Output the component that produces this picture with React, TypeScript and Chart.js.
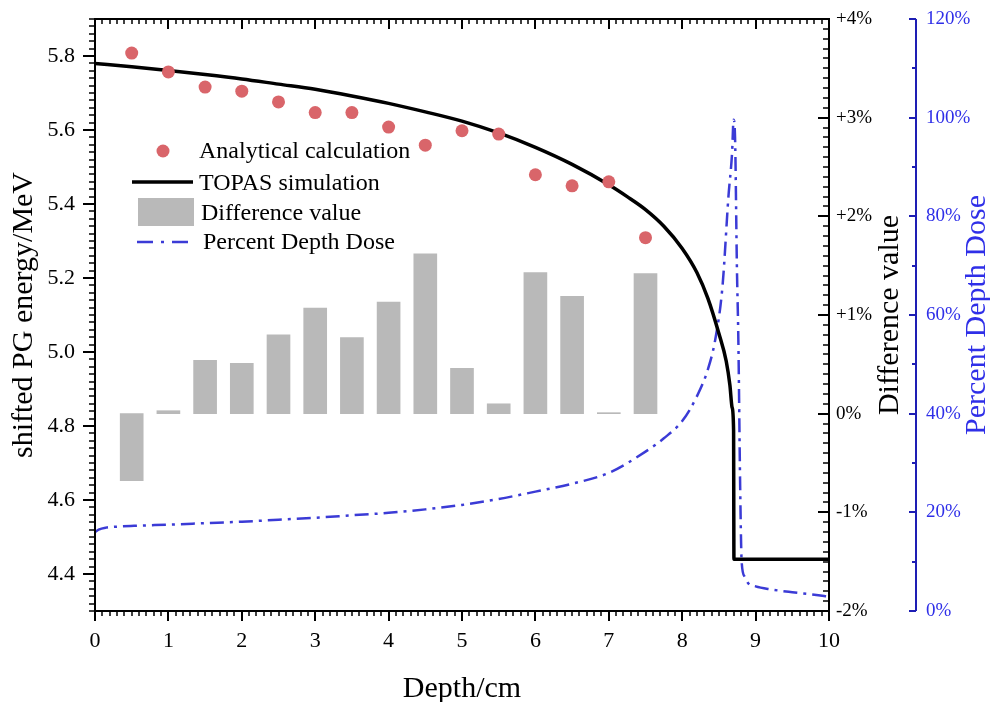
import React, { useEffect, useRef } from 'react';
import { Chart, registerables } from 'chart.js';

Chart.register(...registerables);

// ---------- data ----------
const depthPoints = [0.5, 1, 1.5, 2, 2.5, 3, 3.5, 4, 4.5, 5, 5.5, 6, 6.5, 7, 7.5];
const analyticalEnergy = [5.808, 5.757, 5.716, 5.705, 5.676, 5.647, 5.647, 5.608, 5.559, 5.598, 5.589, 5.479, 5.449, 5.46, 5.309];
const differencePct = [-0.68, 0.03, 0.54, 0.51, 0.8, 1.07, 0.77, 1.13, 1.62, 0.46, 0.1, 1.43, 1.19, 0.01, 1.42];

const topasDepth = [0, 0.5, 1, 1.5, 2, 2.5, 3, 3.5, 4, 4.5, 5, 5.5, 6, 6.5, 7, 7.25, 7.5, 7.75, 8, 8.2, 8.35, 8.5, 8.6, 8.65, 8.68, 8.7, 8.705, 10];
const topasEnergy = [5.78, 5.771, 5.761, 5.75, 5.738, 5.724, 5.71, 5.692, 5.672, 5.649, 5.624, 5.592, 5.553, 5.507, 5.452, 5.42, 5.385, 5.34, 5.28, 5.215, 5.145, 5.05, 4.975, 4.91, 4.85, 4.79, 4.44, 4.44];

const pddDepth = [0, 0.05, 0.15, 0.3, 0.6, 1, 1.5, 2, 2.5, 3, 3.5, 4, 4.5, 5, 5.5, 6, 6.5, 7, 7.5, 7.75, 8, 8.2, 8.35, 8.45, 8.55, 8.63, 8.68, 8.7, 8.72, 8.745, 8.765, 8.79, 8.81, 8.85, 8.9, 9, 9.2, 9.5, 9.8, 10];
const pddPercent = [16.0, 16.5, 16.9, 17.1, 17.3, 17.5, 17.8, 18.1, 18.5, 18.9, 19.4, 19.9, 20.6, 21.5, 22.7, 24.2, 25.8, 28.0, 32.3, 35.0, 38.5, 43.5, 49.0, 55.0, 66.0, 84.0, 93.0, 99.6, 96.0, 70.0, 55.0, 25.0, 10.0, 7.0, 5.6, 5.0, 4.4, 3.8, 3.3, 2.9];

const xTicks = [0, 1, 2, 3, 4, 5, 6, 7, 8, 9, 10];
const energyTicks = [4.4, 4.6, 4.8, 5.0, 5.2, 5.4, 5.6, 5.8];
const diffTicks = [-2, -1, 0, 1, 2, 3, 4];
const pddTicks = [0, 20, 40, 60, 80, 100, 120];
const pddMinorTicks = [10, 30, 50, 70, 90, 110];

const legendLabels = ['Analytical calculation', 'TOPAS simulation', 'Difference value', 'Percent Depth Dose'];

const FONT = "'Liberation Serif', 'Times New Roman', serif";
const RED = '#d9656a';
const GRAY = '#b9b9b9';
const BLUE = '#3b3bd6';
const BLUE_AXIS = '#1e1eb4';
const BLUE_TEXT = '#2f2fe8';

const zeroPad = (s: any) => {
  s.paddingTop = 0;
  s.paddingBottom = 0;
  s.paddingLeft = 0;
  s.paddingRight = 0;
};

const decoPlugin = {
  id: 'deco',
  afterDraw(chart: any) {
    const { ctx, chartArea, scales } = chart;
    const { left, right, top, bottom } = chartArea;
    const line = (x1: number, y1: number, x2: number, y2: number) => {
      ctx.beginPath();
      ctx.moveTo(x1, y1);
      ctx.lineTo(x2, y2);
      ctx.stroke();
    };
    ctx.save();
    ctx.strokeStyle = '#000';
    // minor / major ticks
    const xs = scales.x;
    for (let i = 0; i <= 100; i++) {
      const px = Math.round(xs.getPixelForValue(i / 10));
      const major = i % 10 === 0;
      ctx.lineWidth = major ? 2 : 1.5;
      const len = major ? 10 : 5;
      line(px, bottom, px, bottom + len);
      line(px, top, px, top + len);
    }
    const ys = scales.y;
    for (let i = 0; i <= 80; i++) {
      const v = 4.3 + i * 0.02;
      const py = Math.round(ys.getPixelForValue(v));
      const major = energyTicks.some((t) => Math.abs(t - v) < 1e-6);
      ctx.lineWidth = major ? 2 : 1.5;
      line(left, py, left - (major ? 12 : 6), py);
    }
    const y2 = scales.y2;
    for (let i = 0; i <= 60; i++) {
      const v = -2 + i * 0.1;
      const py = Math.round(y2.getPixelForValue(v));
      const major = i % 10 === 0;
      ctx.lineWidth = major ? 2 : 1.5;
      line(right, py, right - (major ? 11 : 6), py);
    }
    // frame
    ctx.lineWidth = 2;
    ctx.beginPath();
    ctx.rect(left, top, right - left, bottom - top);
    ctx.stroke();

    // PDD axis
    const y3 = scales.y3;
    const ax = Math.round(y3.left);
    ctx.strokeStyle = BLUE_AXIS;
    ctx.lineWidth = 2;
    line(ax, top, ax, bottom);
    pddTicks.forEach((v) => {
      const py = Math.round(y3.getPixelForValue(v));
      line(ax, py, ax - 7, py);
    });
    pddMinorTicks.forEach((v) => {
      const py = Math.round(y3.getPixelForValue(v));
      line(ax, py, ax - 4, py);
    });

    // axis titles
    ctx.font = `30px ${FONT}`;
    ctx.fillStyle = '#000';
    ctx.textAlign = 'center';
    ctx.textBaseline = 'alphabetic';
    ctx.fillText('Depth/cm', (left + right) / 2, 697);
    const vText = (text: string, x: number, color: string) => {
      ctx.save();
      ctx.translate(x, (top + bottom) / 2);
      ctx.rotate(-Math.PI / 2);
      ctx.fillStyle = color;
      ctx.fillText(text, 0, 0);
      ctx.restore();
    };
    vText('shifted PG energy/MeV', 32, '#000');
    vText('Difference value', 898, '#000');
    vText('Percent Depth Dose', 985, BLUE_TEXT);

    // legend
    ctx.fillStyle = RED;
    ctx.beginPath();
    ctx.arc(163, 151, 6.5, 0, Math.PI * 2);
    ctx.fill();
    ctx.strokeStyle = '#000';
    ctx.lineWidth = 3.5;
    line(132, 182, 193, 182);
    ctx.fillStyle = GRAY;
    ctx.fillRect(138, 198, 56, 28);
    ctx.strokeStyle = BLUE;
    ctx.lineWidth = 2.5;
    ctx.setLineDash([16, 8, 3, 8]);
    line(137, 242, 192, 242);
    ctx.setLineDash([]);
    ctx.font = `24px ${FONT}`;
    ctx.fillStyle = '#000';
    ctx.textAlign = 'left';
    ctx.fillText(legendLabels[0], 199, 158);
    ctx.fillText(legendLabels[1], 199, 190);
    ctx.fillText(legendLabels[2], 201, 220);
    ctx.fillText(legendLabels[3], 203, 249);
    ctx.restore();
  },
};

export default function App() {
  const ref = useRef<HTMLCanvasElement>(null);
  useEffect(() => {
    if (!ref.current) return;
    Chart.defaults.font.family = FONT;
    const chart = new Chart(ref.current, {
      type: 'line',
      data: {
        datasets: [
          {
            type: 'line',
            label: legendLabels[0],
            data: depthPoints.map((x, i) => ({ x, y: analyticalEnergy[i] })),
            xAxisID: 'x',
            yAxisID: 'y',
            showLine: false,
            pointRadius: 6.5,
            pointBorderWidth: 0,
            pointBackgroundColor: RED,
            pointBorderColor: RED,
            order: 0,
          } as any,
          {
            type: 'line',
            label: legendLabels[1],
            data: topasDepth.map((x, i) => ({ x, y: topasEnergy[i] })),
            xAxisID: 'x',
            yAxisID: 'y',
            borderColor: '#000',
            borderWidth: 3.5,
            pointRadius: 0,
            cubicInterpolationMode: 'monotone',
            order: 1,
          },
          {
            type: 'line',
            label: legendLabels[3],
            data: pddDepth.map((x, i) => ({ x, y: pddPercent[i] })),
            xAxisID: 'x',
            yAxisID: 'y3',
            borderColor: BLUE,
            borderWidth: 2.5,
            borderDash: [14, 6, 3, 6],
            pointRadius: 0,
            cubicInterpolationMode: 'monotone',
            order: 2,
          },
          {
            type: 'bar',
            label: legendLabels[2],
            data: depthPoints.map((x, i) => ({ x, y: differencePct[i] })),
            xAxisID: 'x',
            yAxisID: 'y2',
            backgroundColor: GRAY,
            barThickness: 23,
            order: 3,
          } as any,
        ],
      },
      options: {
        animation: false,
        responsive: false,
        events: [],
        layout: { padding: { top: 19, left: 0, right: 0, bottom: 0 } },
        plugins: { legend: { display: false }, tooltip: { enabled: false }, title: { display: false } },
        scales: {
          x: {
            type: 'linear',
            position: 'bottom',
            min: 0,
            max: 10,
            offset: false,
            grid: { display: false, drawTicks: false },
            border: { display: false },
            afterBuildTicks: (s: any) => { s.ticks = xTicks.map((v) => ({ value: v })); },
            afterFit: (s: any) => { s.height = 91; zeroPad(s); },
            ticks: { color: '#000', font: { size: 22, family: FONT }, padding: 17, autoSkip: false, maxRotation: 0 },
          },
          y: {
            type: 'linear',
            position: 'left',
            min: 4.3,
            max: 5.9,
            grid: { display: false, drawTicks: false },
            border: { display: false },
            afterBuildTicks: (s: any) => { s.ticks = energyTicks.map((v) => ({ value: v })); },
            afterFit: (s: any) => { s.width = 95; zeroPad(s); },
            ticks: { color: '#000', font: { size: 22, family: FONT }, padding: 20, autoSkip: false, callback: (v: any) => Number(v).toFixed(1) },
          },
          y2: {
            type: 'linear',
            position: 'right',
            weight: 0,
            min: -2,
            max: 4,
            grid: { display: false, drawTicks: false },
            border: { display: false },
            afterBuildTicks: (s: any) => { s.ticks = diffTicks.map((v) => ({ value: v })); },
            afterFit: (s: any) => { s.width = 87; zeroPad(s); },
            ticks: { color: '#000', font: { size: 19, family: FONT }, padding: 7, autoSkip: false, callback: (v: any) => (Number(v) > 0 ? `+${v}%` : `${v}%`) },
          },
          y3: {
            type: 'linear',
            position: 'right',
            weight: 1,
            min: 0,
            max: 120,
            grid: { display: false, drawTicks: false },
            border: { display: false },
            afterBuildTicks: (s: any) => { s.ticks = pddTicks.map((v) => ({ value: v })); },
            afterFit: (s: any) => { s.width = 74; zeroPad(s); },
            ticks: { color: BLUE_TEXT, font: { size: 19, family: FONT }, padding: 10, autoSkip: false, callback: (v: any) => `${v}%` },
          },
        },
      } as any,
      plugins: [decoPlugin],
    });
    return () => chart.destroy();
  }, []);
  return (
    <div style={{ position: 'absolute', left: 0, top: 0, width: 990, height: 702, background: '#fff' }}>
      <canvas ref={ref} width={990} height={702} style={{ display: 'block', width: 990, height: 702 }} />
    </div>
  );
}
